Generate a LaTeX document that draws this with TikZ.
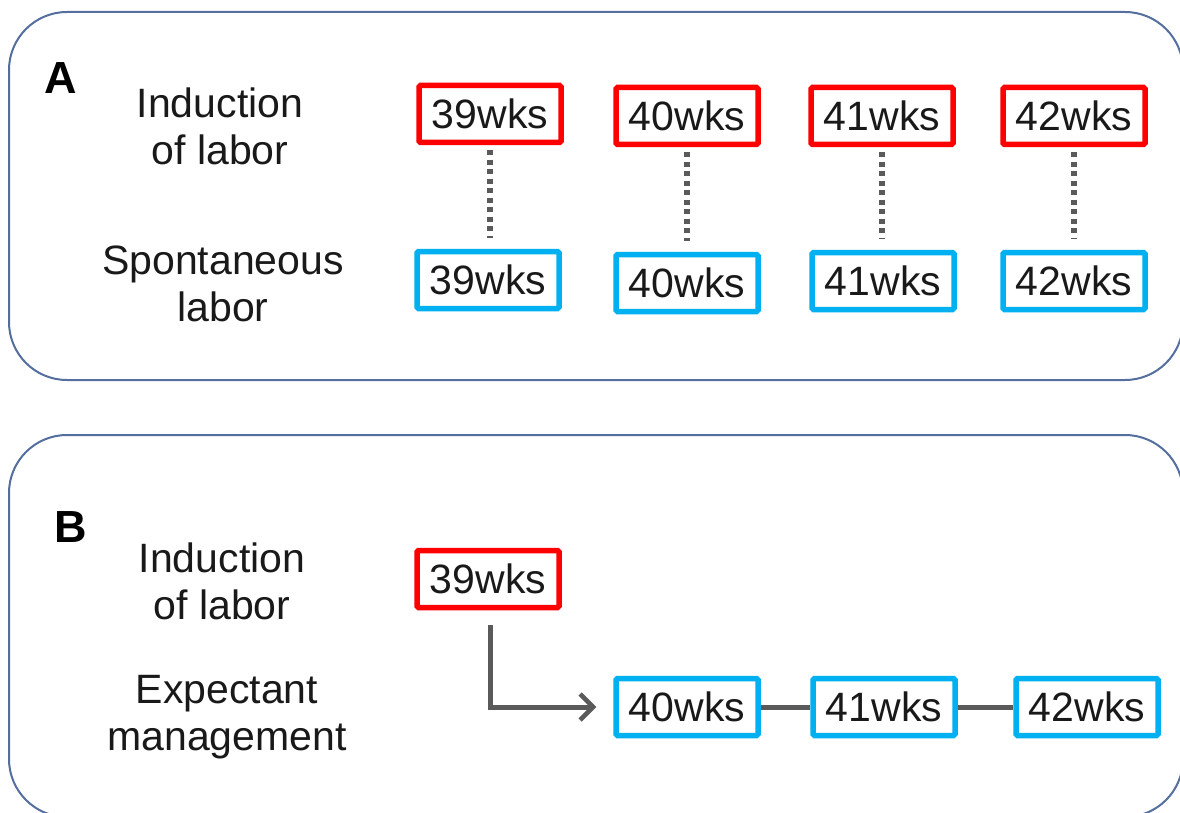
\documentclass[tikz,border=0pt]{standalone}
\usepackage{fontspec}
\setmainfont{Liberation Sans}
\usetikzlibrary{arrows.meta}
\definecolor{panelc}{RGB}{84,110,158}
\definecolor{redc}{RGB}{255,0,0}
\definecolor{bluec}{RGB}{0,176,240}
\definecolor{grayc}{RGB}{90,90,90}
\definecolor{txtc}{RGB}{25,25,25}
\tikzset{
  panel/.style={draw=panelc, line width=2pt, rounded corners=58pt},
  wk/.style={draw, line width=5.5pt, rounded corners=1.5pt, minimum width=142pt, minimum height=57pt, inner sep=0pt, text=txtc, font=\fontsize{41pt}{47pt}\selectfont},
  redbox/.style={wk, draw=redc},
  bluebox/.style={wk, draw=bluec},
  lbl/.style={align=center, text=txtc, font=\fontsize{41pt}{47pt}\selectfont, inner sep=0pt},
  letter/.style={text=black, font=\fontsize{45pt}{50pt}\selectfont\bfseries, inner sep=0pt},
  dotline/.style={draw=grayc, line width=5.5pt, dash pattern=on 5pt off 4.5pt},
  conn/.style={draw=grayc, line width=5pt},
  arr/.style={draw=grayc, line width=5pt, -{Straight Barb[length=13pt,width=26pt,line width=4.5pt]}}
}
\begin{document}
\begin{tikzpicture}[x=1pt,y=-1pt]
\useasboundingbox (0,0) rectangle (1180,813);
\begin{scope}
\clip (0,0) rectangle (1180,813);
\draw[panel] (9,12) rectangle (1183,380);
\draw[panel] (9,435) rectangle (1183,817);
\end{scope}

% Panel A
\node[letter] (la) at (61,78) {A};
\node[lbl] (indA) at (220,126) {Induction\\of labor};
\node[lbl] (spA) at (223,284) {Spontaneous\\labor};
\node[redbox] (ra39) at (490,114) {39wks};
\node[redbox] (ra40) at (687,116) {40wks};
\node[redbox] (ra41) at (882,116) {41wks};
\node[redbox] (ra42) at (1074,116) {42wks};
\node[bluebox] (ba39) at (488,280) {39wks};
\node[bluebox] (ba40) at (687,283) {40wks};
\node[bluebox] (ba41) at (883,281) {41wks};
\node[bluebox] (ba42) at (1074,281) {42wks};
\draw[dotline, shorten <=5pt, shorten >=11pt] (ra39.south) -- (ra39.south |- ba39.north);
\draw[dotline, shorten <=5pt, shorten >=11pt] (ra40.south) -- (ra40.south |- ba40.north);
\draw[dotline, shorten <=5pt, shorten >=11pt] (ra41.south) -- (ra41.south |- ba41.north);
\draw[dotline, shorten <=5pt, shorten >=11pt] (ra42.south) -- (ra42.south |- ba42.north);

% Panel B
\node[letter] (lb) at (71,527) {B};
\node[lbl] (indB) at (222,581) {Induction\\of labor};
\node[lbl] (expB) at (227,717) {Expectant\\management};
\node[redbox] (rb39) at (488,579) {39wks};
\node[bluebox] (bb40) at (687,707) {40wks};
\node[bluebox] (bb41) at (884,707) {41wks};
\node[bluebox] (bb42) at (1087,707) {42wks};
\draw[arr] ([xshift=2pt,yshift=-15pt]rb39.south) |- ([xshift=-17pt]bb40.west);
\draw[conn] (bb40) -- (bb41);
\draw[conn] (bb41) -- (bb42);
\end{tikzpicture}
\end{document}
